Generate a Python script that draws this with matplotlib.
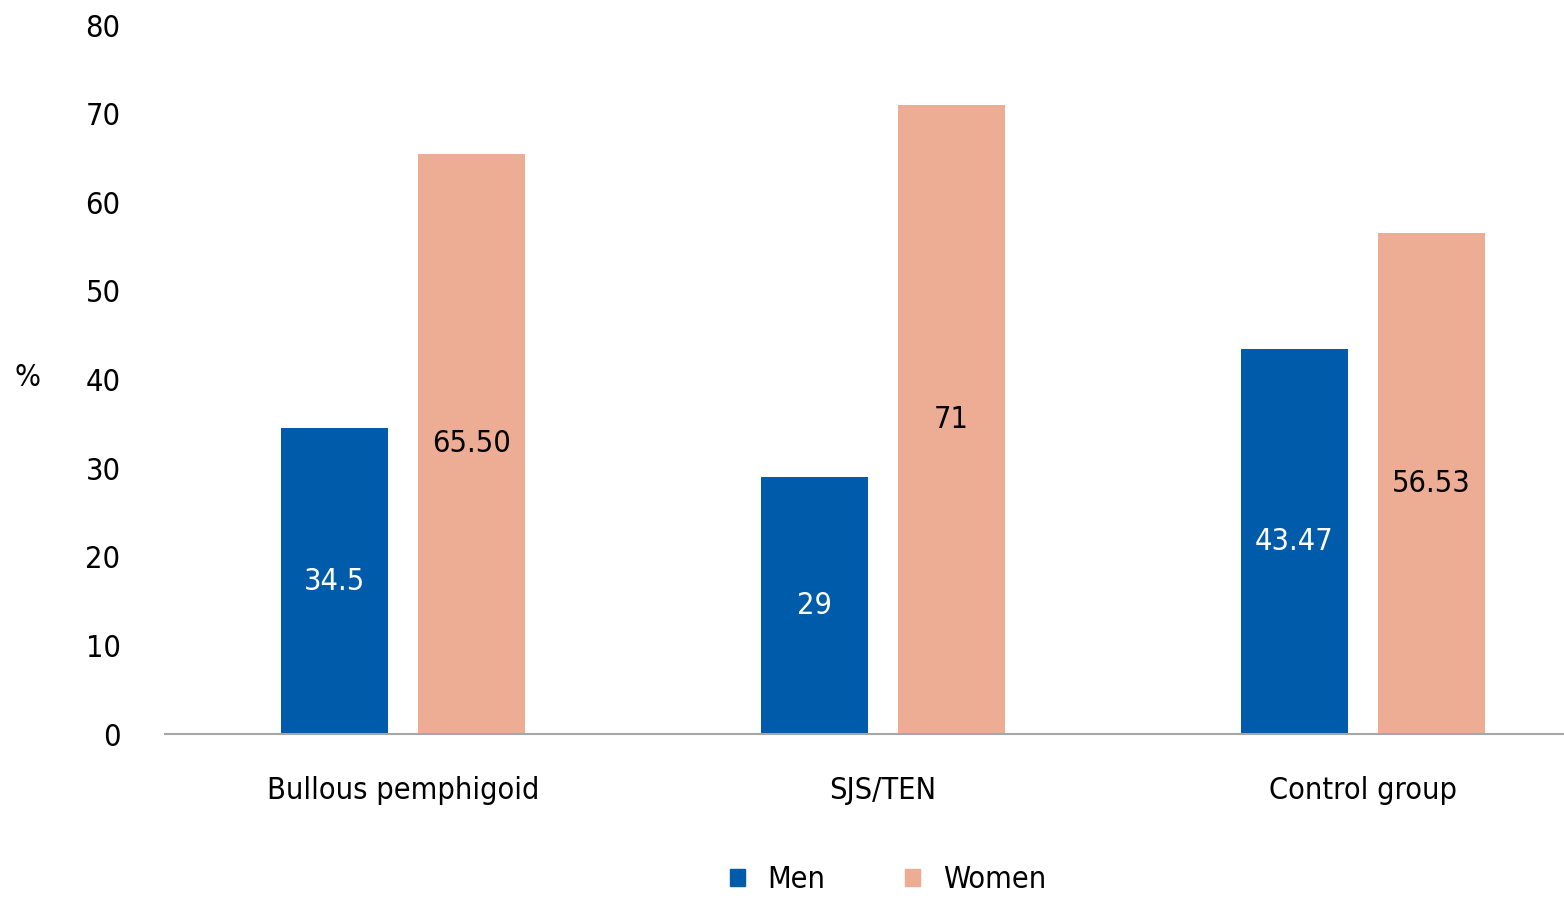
import matplotlib
matplotlib.use('Agg')
import matplotlib.pyplot as plt
import numpy as np
from matplotlib.patches import Patch

categories = ['Bullous pemphigoid', 'SJS/TEN', 'Control group']
men = [34.5, 29, 43.47]
women = [65.50, 71, 56.53]
men_labels = ['34.5', '29', '43.47']
women_labels = ['65.50', '71', '56.53']
yticks = [0, 10, 20, 30, 40, 50, 60, 70, 80]

BLUE = '#005BAA'
SALMON = '#EDAD95'

plt.rcParams['font.family'] = ['DejaVu Sans']
plt.rcParams['font.stretch'] = 'condensed'

W, H = 1564, 909
fig = plt.figure(figsize=(W / 100, H / 100), dpi=100)
ax = fig.add_axes([165 / W, 1 - 734 / H, (1564 - 165) / W, (734 - 25) / H])

x = np.arange(len(categories))
bw = 0.223
off = 0.143
b1 = ax.bar(x - off, men, bw, color=BLUE, label='Men')
b2 = ax.bar(x + off, women, bw, color=SALMON, label='Women')

fs = 22
for rect, lab in zip(b1, men_labels):
    ax.text(rect.get_x() + rect.get_width() / 2, rect.get_height() / 2, lab,
            ha='center', va='center', color='white', fontsize=fs)
for rect, lab in zip(b2, women_labels):
    ax.text(rect.get_x() + rect.get_width() / 2, rect.get_height() / 2, lab,
            ha='center', va='center', color='black', fontsize=fs)

ax.set_xlim((165 - 403) / 480, (1564 - 403) / 480)
ax.set_ylim(0, 80)
ax.set_yticks(yticks)
ax.set_yticklabels([str(t) for t in yticks], fontsize=fs)
ax.set_xticks(x)
ax.set_xticklabels(categories, fontsize=fs)
ax.tick_params(axis='both', length=0)
ax.tick_params(axis='y', pad=32)
ax.tick_params(axis='x', pad=30)
for s in ['top', 'right', 'left']:
    ax.spines[s].set_visible(False)
ax.spines['bottom'].set_color('#A6A6A6')
ax.spines['bottom'].set_linewidth(1.5)

fig.text(28 / W, 1 - 378 / H, '%', fontsize=fs, ha='center', va='center')

handles = [Patch(color=BLUE, label='Men'), Patch(color=SALMON, label='Women')]
fig.legend(handles=handles, loc='center', bbox_to_anchor=(888 / W, 1 - 880 / H),
           ncol=2, frameon=False, fontsize=fs, handlelength=0.48, handleheight=0.48,
           columnspacing=2.6, handletextpad=0.75)

fig.savefig('out.png', dpi=100)
